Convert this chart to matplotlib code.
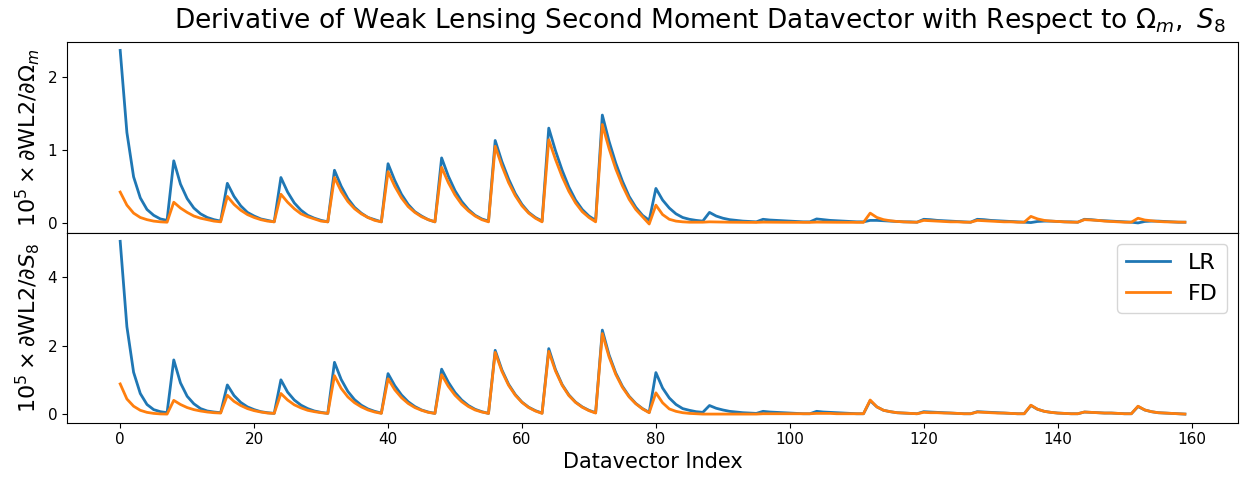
import numpy as np
import matplotlib
matplotlib.use("Agg")
import matplotlib.pyplot as plt

index = np.arange(160)

lr_om = [
    2.37, 1.24, 0.63, 0.34, 0.18, 0.10, 0.05, 0.03,
    0.85, 0.53, 0.33, 0.20, 0.12, 0.07, 0.04, 0.02,
    0.54, 0.36, 0.23, 0.14, 0.09, 0.05, 0.03, 0.01,
    0.62, 0.42, 0.27, 0.17, 0.10, 0.06, 0.03, 0.01,
    0.72, 0.50, 0.33, 0.21, 0.13, 0.07, 0.04, 0.01,
    0.81, 0.58, 0.39, 0.25, 0.15, 0.09, 0.04, 0.01,
    0.89, 0.64, 0.44, 0.29, 0.18, 0.10, 0.05, 0.02,
    1.13, 0.84, 0.60, 0.40, 0.25, 0.14, 0.07, 0.02,
    1.30, 0.99, 0.72, 0.49, 0.31, 0.18, 0.09, 0.03,
    1.48, 1.12, 0.82, 0.57, 0.36, 0.21, 0.10, 0.03,
    0.47, 0.31, 0.20, 0.12, 0.07, 0.045, 0.03, 0.02,
    0.14, 0.09, 0.06, 0.04, 0.03, 0.02, 0.015, 0.01,
    0.045, 0.035, 0.03, 0.025, 0.02, 0.015, 0.01, 0.01,
    0.05, 0.04, 0.03, 0.025, 0.02, 0.015, 0.01, 0.01,
    0.03, 0.03, 0.025, 0.02, 0.015, 0.01, 0.01, 0.005,
    0.045, 0.04, 0.03, 0.025, 0.02, 0.015, 0.01, 0.005,
    0.045, 0.04, 0.03, 0.025, 0.02, 0.015, 0.01, 0.005,
    0.0, 0.015, 0.02, 0.02, 0.015, 0.01, 0.01, 0.005,
    0.045, 0.04, 0.03, 0.025, 0.02, 0.015, 0.01, 0.005,
    -0.005, 0.015, 0.02, 0.02, 0.015, 0.01, 0.005, 0.005,
]

fd_om = [
    0.42, 0.24, 0.13, 0.07, 0.04, 0.02, 0.01, 0.005,
    0.28, 0.20, 0.14, 0.09, 0.06, 0.04, 0.02, 0.01,
    0.36, 0.25, 0.17, 0.11, 0.07, 0.04, 0.02, 0.01,
    0.39, 0.28, 0.19, 0.12, 0.08, 0.05, 0.02, 0.01,
    0.62, 0.43, 0.29, 0.19, 0.12, 0.07, 0.03, 0.01,
    0.70, 0.50, 0.34, 0.22, 0.14, 0.08, 0.04, 0.01,
    0.76, 0.55, 0.38, 0.25, 0.16, 0.09, 0.04, 0.01,
    1.05, 0.78, 0.55, 0.37, 0.23, 0.13, 0.06, 0.01,
    1.14, 0.87, 0.63, 0.43, 0.27, 0.15, 0.07, 0.01,
    1.35, 1.02, 0.74, 0.51, 0.32, 0.18, 0.08, -0.02,
    0.24, 0.11, 0.045, 0.02, 0.01, 0.005, 0.005, 0.005,
    0.01, 0.008, 0.006, 0.005, 0.004, 0.003, 0.003, 0.003,
    0.006, 0.005, 0.005, 0.004, 0.004, 0.003, 0.003, 0.003,
    0.006, 0.005, 0.005, 0.004, 0.004, 0.003, 0.003, 0.003,
    0.13, 0.07, 0.04, 0.025, 0.015, 0.01, 0.005, 0.005,
    0.03, 0.025, 0.02, 0.015, 0.01, 0.01, 0.005, 0.005,
    0.03, 0.025, 0.02, 0.015, 0.01, 0.01, 0.005, 0.005,
    0.085, 0.05, 0.03, 0.02, 0.015, 0.01, 0.005, 0.005,
    0.04, 0.035, 0.03, 0.02, 0.015, 0.01, 0.005, 0.005,
    0.06, 0.035, 0.025, 0.015, 0.01, 0.008, 0.005, 0.005,
]

lr_s8 = [
    5.05, 2.56, 1.23, 0.61, 0.29, 0.14, 0.08, 0.05,
    1.59, 0.92, 0.53, 0.31, 0.17, 0.10, 0.07, 0.05,
    0.86, 0.55, 0.35, 0.22, 0.14, 0.08, 0.05, 0.03,
    1.01, 0.65, 0.42, 0.27, 0.17, 0.10, 0.06, 0.03,
    1.52, 1.02, 0.67, 0.43, 0.27, 0.16, 0.09, 0.04,
    1.19, 0.84, 0.57, 0.37, 0.23, 0.13, 0.07, 0.03,
    1.32, 0.94, 0.64, 0.42, 0.26, 0.15, 0.08, 0.03,
    1.87, 1.30, 0.88, 0.58, 0.36, 0.21, 0.11, 0.04,
    1.92, 1.31, 0.87, 0.57, 0.36, 0.22, 0.12, 0.05,
    2.46, 1.74, 1.21, 0.82, 0.53, 0.32, 0.17, 0.06,
    1.22, 0.77, 0.48, 0.29, 0.17, 0.12, 0.08, 0.06,
    0.26, 0.18, 0.13, 0.09, 0.07, 0.05, 0.04, 0.03,
    0.09, 0.07, 0.06, 0.05, 0.04, 0.03, 0.02, 0.02,
    0.09, 0.07, 0.06, 0.05, 0.04, 0.03, 0.02, 0.02,
    0.40, 0.22, 0.12, 0.08, 0.05, 0.04, 0.03, 0.02,
    0.08, 0.07, 0.06, 0.05, 0.04, 0.03, 0.02, 0.02,
    0.08, 0.07, 0.06, 0.05, 0.04, 0.03, 0.02, 0.02,
    0.26, 0.15, 0.09, 0.06, 0.04, 0.03, 0.02, 0.02,
    0.07, 0.06, 0.05, 0.04, 0.04, 0.03, 0.02, 0.02,
    0.23, 0.13, 0.08, 0.05, 0.04, 0.03, 0.02, 0.01,
]

fd_s8 = [
    0.89, 0.45, 0.24, 0.12, 0.06, 0.03, 0.015, 0.01,
    0.41, 0.29, 0.20, 0.14, 0.10, 0.07, 0.05, 0.04,
    0.56, 0.38, 0.26, 0.17, 0.11, 0.07, 0.04, 0.03,
    0.61, 0.42, 0.28, 0.19, 0.12, 0.08, 0.05, 0.03,
    1.13, 0.76, 0.51, 0.34, 0.22, 0.13, 0.07, 0.03,
    1.04, 0.72, 0.49, 0.32, 0.20, 0.12, 0.06, 0.03,
    1.16, 0.82, 0.56, 0.37, 0.23, 0.13, 0.07, 0.03,
    1.81, 1.26, 0.85, 0.56, 0.35, 0.20, 0.10, 0.03,
    1.84, 1.27, 0.85, 0.55, 0.35, 0.21, 0.11, 0.04,
    2.36, 1.68, 1.17, 0.79, 0.51, 0.31, 0.16, 0.05,
    0.63, 0.34, 0.16, 0.09, 0.05, 0.03, 0.02, 0.01,
    0.01, 0.01, 0.01, 0.01, 0.01, 0.01, 0.01, 0.01,
    0.02, 0.02, 0.02, 0.02, 0.02, 0.02, 0.02, 0.02,
    0.03, 0.03, 0.03, 0.02, 0.02, 0.02, 0.02, 0.02,
    0.42, 0.22, 0.12, 0.08, 0.05, 0.04, 0.03, 0.02,
    0.06, 0.05, 0.05, 0.04, 0.04, 0.03, 0.02, 0.02,
    0.07, 0.06, 0.05, 0.04, 0.04, 0.03, 0.02, 0.02,
    0.27, 0.15, 0.09, 0.06, 0.04, 0.03, 0.02, 0.02,
    0.07, 0.06, 0.05, 0.04, 0.04, 0.03, 0.02, 0.02,
    0.24, 0.13, 0.08, 0.05, 0.04, 0.03, 0.02, 0.01,
]

series_labels = ["LR", "FD"]
title = r"Derivative of Weak Lensing Second Moment Datavector with Respect to $\Omega_m,\ S_8$"
ylabel_top = r"$10^5 \times \partial$WL2$/\partial\Omega_m$"
ylabel_bot = r"$10^5 \times \partial$WL2$/\partial S_8$"
xlabel = "Datavector Index"

fig = plt.figure(figsize=(12.4, 4.79), dpi=100)
ax1 = fig.add_axes([0.0540, 0.5142, 0.9445, 0.3987])
ax2 = fig.add_axes([0.0540, 0.1175, 0.9445, 0.3967], sharex=ax1)

lw = 2.0
ax1.plot(index, lr_om, color="#1f77b4", lw=lw, label=series_labels[0])
ax1.plot(index, fd_om, color="#ff7f0e", lw=lw, label=series_labels[1])
ax2.plot(index, lr_s8, color="#1f77b4", lw=lw, label=series_labels[0])
ax2.plot(index, fd_s8, color="#ff7f0e", lw=lw, label=series_labels[1])

ax1.set_yticks([0, 1, 2])
ax2.set_yticks([0, 2, 4])
ax2.set_xticks([0, 20, 40, 60, 80, 100, 120, 140, 160])
ax1.tick_params(axis="x", labelbottom=False)
for ax in (ax1, ax2):
    ax.tick_params(labelsize=11)
ax1.set_ylabel(ylabel_top, fontsize=16, labelpad=4)
ax2.set_ylabel(ylabel_bot, fontsize=16, labelpad=4)
ax2.set_xlabel(xlabel, fontsize=15, labelpad=3)
ax2.legend(loc="upper right", fontsize=16)
fig.text(700 / 1240, 1 - 21 / 479, title, ha="center", va="center", fontsize=19)

fig.savefig("out.png", dpi=100)
